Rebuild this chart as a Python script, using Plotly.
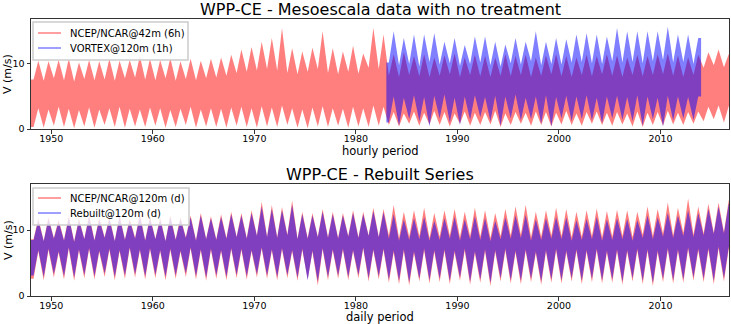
import plotly.graph_objects as go
import pandas as pd
import numpy as np

# ---------------- data ----------------
years = list(range(1948, 2017))          # 69 years
vortex_years = list(range(1983, 2014))   # VORTEX hourly series span

# Top panel - NCEP/NCAR@42m (6h): yearly envelope values (m/s)
n42_top_windy = [10.5, 10.4, 10.6, 10.8, 10.2, 10.6, 10.4, 10.8, 10.5, 10.6,
                 11.2, 10.8, 10.6, 10.9, 10.4, 10.8, 10.5, 10.8, 11.0, 11.4,
                 12.2, 12.6, 13.4, 14.0, 15.5, 12.4, 11.9, 12.5, 15.0, 12.4,
                 11.9, 12.8, 11.6, 15.5, 14.5, 11.5, 11.8, 11.2, 11.5, 11.0,
                 11.3, 11.6, 11.0, 11.4, 11.2, 11.0, 11.5, 11.2, 11.4, 11.0,
                 11.3, 11.5, 11.2, 11.0, 11.4, 11.2, 11.5, 11.3, 11.0, 11.4,
                 11.2, 11.5, 11.6, 11.3, 11.0, 11.4, 11.8, 12.2, 11.5]
n42_top_calm = [7.6, 7.4, 7.8, 7.5, 7.3, 7.7, 7.5, 7.6, 7.4, 7.8,
                7.9, 7.6, 7.5, 7.8, 7.4, 7.7, 7.5, 7.8, 7.9, 8.2,
                8.6, 8.8, 9.0, 9.2, 9.0, 8.6, 8.4, 8.8, 9.2, 8.6,
                8.4, 8.8, 8.5, 9.4, 9.2, 8.2, 8.0, 8.3, 8.1, 8.0,
                8.2, 8.4, 8.0, 8.3, 8.1, 8.0, 8.2, 8.1, 8.3, 8.0,
                8.2, 8.4, 8.1, 8.0, 8.3, 8.1, 8.4, 8.2, 8.0, 8.3,
                8.1, 8.3, 8.4, 8.2, 8.0, 8.3, 9.4, 9.8, 9.5]
n42_bot_calm = [0.3, 0.2, 0.5, 0.3, 0.1, 0.4, 0.2, 0.6, 0.3, 0.2,
                0.4, 0.3, 0.5, 0.2, 0.3, 0.6, 0.2, 0.4, 0.3, 0.2,
                0.5, 0.3, 0.2, 0.4, 0.3, 0.6, 0.2, 0.1, 0.4, 0.3,
                0.5, 0.2, 0.4, 0.3, 0.5, 0.6, 0.4, 0.8, 0.5, 0.7,
                0.6, 0.4, 0.8, 0.5, 0.6, 0.7, 0.3, 0.6, 0.8, 0.5,
                0.6, 0.4, 0.7, 0.6, 0.5, 0.8, 0.6, 0.5, 0.7, 0.4,
                0.3, 0.6, 0.5, 0.7, 0.6, 0.8, 1.2, 1.5, 1.0]
n42_bot_windy = [3.2, 3.0, 3.4, 3.1, 2.9, 3.3, 3.0, 3.2, 3.4, 3.1,
                 3.0, 3.3, 3.2, 2.9, 3.1, 3.4, 3.0, 3.2, 3.1, 3.3,
                 3.4, 3.2, 3.5, 3.3, 3.6, 3.2, 3.0, 3.3, 3.5, 3.2,
                 3.1, 3.4, 3.2, 3.6, 3.4, 2.6, 2.4, 2.7, 2.5, 2.8,
                 2.6, 2.4, 2.7, 2.5, 2.6, 2.8, 2.4, 2.6, 2.5, 2.7,
                 2.6, 2.5, 2.8, 2.4, 2.6, 2.7, 2.5, 2.6, 2.4, 2.7,
                 2.5, 2.6, 2.8, 2.5, 2.6, 2.7, 3.4, 3.6, 3.5]

# Top panel - VORTEX@120m (1h), 1983-2013
vx_top_windy = [15.0, 14.0, 14.5, 14.5, 14.7, 13.4, 14.0, 12.9, 14.2, 14.2,
                13.4, 13.0, 14.0, 13.4, 15.0, 13.4, 14.0, 13.8, 14.5, 14.7,
                14.5, 14.2, 15.5, 15.0, 15.0, 15.0, 15.0, 15.7, 14.5, 14.5, 14.0]
vx_top_calm = [10.2, 9.8, 10.0, 9.6, 10.3, 9.9, 10.1, 9.7, 10.0, 10.2,
               9.8, 9.6, 10.1, 9.9, 10.4, 9.8, 10.0, 9.9, 10.2, 10.3,
               10.1, 10.0, 10.4, 10.2, 10.3, 10.1, 10.4, 10.6, 10.2, 10.3, 10.0]
vx_bot_calm = [1.0, 0.5, 1.5, 1.2, 0.4, 1.6, 1.0, 0.6, 1.4, 1.8,
               1.2, 0.5, 1.6, 1.3, 1.5, 0.8, 0.4, 1.6, 1.2, 1.5,
               1.3, 0.9, 1.6, 1.4, 1.2, 0.5, 1.5, 0.4, 1.3, 1.6, 1.4]
vx_bot_windy = [5.0, 4.8, 5.2, 4.9, 5.1, 5.3, 4.8, 5.0, 5.2, 4.9,
                5.1, 5.0, 5.3, 4.8, 5.0, 5.2, 4.9, 5.1, 5.0, 5.2,
                4.8, 5.0, 5.1, 4.9, 5.2, 5.0, 4.8, 5.1, 5.0, 4.9, 5.0]

# Bottom panel - NCEP/NCAR@120m (d)
n120_top_windy = [11.8, 12.0, 11.6, 12.2, 11.8, 12.4, 11.9, 12.0, 12.3, 11.8,
                  12.5, 12.1, 11.9, 12.3, 12.0, 12.2, 12.6, 12.1, 12.4, 12.8,
                  12.6, 13.0, 14.3, 13.8, 13.5, 14.5, 12.8, 12.6, 13.2, 12.8,
                  12.6, 13.0, 12.8, 13.4, 13.2, 13.8, 12.8, 13.0, 13.4, 12.6,
                  13.0, 13.2, 12.8, 13.4, 13.0, 12.6, 13.2, 13.6, 13.8, 12.8,
                  13.0, 13.4, 13.2, 12.8, 13.0, 13.3, 12.9, 13.1, 13.0, 12.8,
                  13.6, 13.2, 14.2, 13.4, 14.8, 13.6, 14.0, 14.2, 14.5]
n120_top_calm = [8.6, 8.4, 8.8, 8.5, 8.3, 8.7, 8.5, 8.9, 8.4, 8.6,
                 8.8, 8.5, 8.7, 8.4, 8.6, 8.9, 8.5, 8.7, 8.6, 8.8,
                 9.0, 8.8, 9.2, 9.0, 8.9, 9.3, 8.7, 8.8, 9.0, 8.9,
                 8.8, 9.1, 8.9, 9.2, 9.0, 9.2, 8.8, 9.0, 9.1, 8.8,
                 9.0, 9.2, 8.9, 9.1, 9.0, 8.8, 9.1, 9.2, 9.3, 8.9,
                 9.0, 9.2, 9.1, 8.9, 9.0, 9.1, 8.9, 9.0, 9.1, 8.9,
                 9.3, 9.1, 9.5, 9.2, 9.6, 9.3, 9.5, 9.6, 9.7]
n120_bot_calm = [2.6, 2.4, 2.8, 2.5, 2.3, 2.7, 2.5, 2.9, 2.4, 2.6,
                 2.8, 2.5, 2.7, 2.4, 2.6, 2.9, 2.5, 2.3, 2.6, 2.4,
                 2.7, 2.5, 2.8, 2.6, 2.4, 2.7, 2.3, 2.5, 1.6, 2.4,
                 2.6, 2.4, 2.7, 2.2, 2.5, 2.0, 1.8, 1.6, 2.2, 1.9,
                 2.1, 1.8, 2.3, 1.7, 2.0, 1.5, 2.2, 1.9, 1.8, 2.1,
                 1.7, 2.0, 1.9, 2.2, 1.8, 2.1, 1.9, 2.0, 1.7, 2.2,
                 1.8, 1.5, 2.1, 1.9, 2.0, 2.3, 2.1, 1.8, 2.2]
n120_bot_windy = [6.8, 7.0, 6.6, 7.2, 6.9, 7.1, 6.7, 7.0, 6.8, 7.2,
                  6.9, 7.1, 6.8, 7.0, 6.7, 7.2, 6.9, 7.0, 6.8, 7.1,
                  7.0, 6.8, 7.2, 6.9, 7.1, 6.8, 7.0, 6.7, 7.1, 6.9,
                  7.0, 6.8, 7.2, 6.9, 7.0, 6.6, 6.8, 6.5, 6.9, 6.7,
                  6.8, 6.6, 6.9, 6.5, 6.8, 6.7, 6.9, 6.6, 6.8, 6.5,
                  6.7, 6.9, 6.6, 6.8, 6.7, 6.9, 6.6, 6.8, 6.7, 6.9,
                  6.8, 6.6, 7.0, 6.8, 7.1, 6.9, 7.0, 7.2, 7.1]

# Bottom panel - Rebuilt@120m (d)
rb_top_windy = [11.5, 11.7, 11.3, 11.9, 11.5, 12.0, 11.6, 11.7, 12.0, 11.5,
                12.1, 11.8, 11.6, 12.0, 11.7, 11.9, 12.2, 11.8, 12.0, 12.4,
                12.2, 12.6, 13.6, 13.2, 13.0, 13.8, 12.4, 12.2, 12.8, 12.4,
                12.2, 12.6, 12.4, 12.9, 12.7, 12.4, 11.6, 11.8, 12.0, 11.4,
                11.8, 12.0, 11.6, 12.1, 11.8, 11.4, 11.9, 12.2, 12.3, 11.6,
                11.8, 12.0, 11.9, 11.5, 11.7, 12.0, 11.6, 11.8, 11.7, 11.5,
                12.2, 11.9, 12.6, 12.2, 13.0, 12.6, 13.2, 13.6, 14.0]
rb_top_calm = [8.5, 8.3, 8.7, 8.4, 8.2, 8.6, 8.4, 8.8, 8.3, 8.5,
               8.7, 8.4, 8.6, 8.3, 8.5, 8.8, 8.4, 8.6, 8.5, 8.7,
               8.9, 8.7, 9.1, 8.9, 8.8, 9.2, 8.6, 8.7, 8.9, 8.8,
               8.7, 9.0, 8.8, 9.1, 8.9, 8.7, 8.4, 8.5, 8.6, 8.4,
               8.5, 8.7, 8.4, 8.6, 8.5, 8.3, 8.6, 8.7, 8.8, 8.4,
               8.5, 8.7, 8.6, 8.4, 8.5, 8.6, 8.4, 8.5, 8.6, 8.4,
               8.8, 8.6, 9.0, 8.8, 9.1, 8.9, 9.2, 9.4, 9.5]
rb_bot_calm = [3.1, 2.9, 3.3, 3.0, 2.8, 3.2, 3.0, 3.4, 2.9, 3.1,
               3.3, 3.0, 3.2, 2.9, 3.1, 3.4, 3.0, 2.8, 3.1, 2.9,
               3.2, 3.0, 3.3, 3.1, 2.9, 3.2, 2.8, 2.4, 2.2, 2.9,
               3.1, 2.9, 3.2, 2.7, 3.0, 2.5, 2.3, 2.1, 2.6, 2.4,
               2.6, 2.3, 2.8, 2.2, 2.5, 2.0, 2.7, 2.4, 2.3, 2.6,
               2.2, 2.5, 2.4, 2.7, 2.3, 2.6, 2.4, 2.5, 2.2, 2.7,
               2.3, 2.0, 2.6, 2.4, 2.5, 2.8, 2.6, 2.3, 2.7]
rb_bot_windy = [7.0, 7.2, 6.8, 7.4, 7.1, 7.3, 6.9, 7.2, 7.0, 7.4,
                7.1, 7.3, 7.0, 7.2, 6.9, 7.4, 7.1, 7.2, 7.0, 7.3,
                7.2, 7.0, 7.4, 7.1, 7.3, 7.0, 7.2, 6.9, 7.3, 7.1,
                7.2, 7.0, 7.4, 7.1, 7.2, 6.9, 7.1, 6.8, 7.2, 7.0,
                7.1, 6.9, 7.2, 6.8, 7.1, 7.0, 7.2, 6.9, 7.1, 6.8,
                7.0, 7.2, 6.9, 7.1, 7.0, 7.2, 6.9, 7.1, 7.0, 7.2,
                7.1, 6.9, 7.3, 7.1, 7.4, 7.2, 7.3, 7.5, 7.4]

series_start = "1948-01-01"
series_end = "2016-10-01"
vortex_start = "1983-01-01"
vortex_end = "2014-01-01"

top_legend = ["NCEP/NCAR@42m (6h)", "VORTEX@120m (1h)"]
bottom_legend = ["NCEP/NCAR@120m (d)", "Rebuilt@120m (d)"]

# ---------------- helpers ----------------
CALM, WINDY = 0.25, 0.72   # position of calm / windy season within the year


def ydate(y, frac):
    a = pd.Timestamp(y, 1, 1)
    b = pd.Timestamp(y + 1, 1, 1)
    return a + (b - a) * frac


def band(yrs, top_calm, top_windy, bot_calm, bot_windy, start, end):
    xu, yu = [pd.Timestamp(start)], [top_calm[0]]
    xl, yl = [pd.Timestamp(start)], [bot_calm[0]]
    for i, y in enumerate(yrs):
        xu += [ydate(y, CALM), ydate(y, WINDY)]
        yu += [top_calm[i], top_windy[i]]
        xl += [ydate(y, CALM), ydate(y, WINDY)]
        yl += [bot_calm[i], bot_windy[i]]
    xu.append(pd.Timestamp(end)); yu.append(top_windy[-1])
    xl.append(pd.Timestamp(end)); yl.append(bot_windy[-1])
    return xu + xl[::-1], yu + yl[::-1]


RED = "rgba(255,0,0,0.5)"
BLUE = "rgba(0,0,255,0.5)"
FONT = "DejaVu Sans"
W, H = 731, 324
ML, MR, MT, MB = 31, 2, 19, 28
PW, PH = W - ML - MR, H - MT - MB

fig = go.Figure()


def add_band(xy, color, xa, ya):
    x, y = xy
    fig.add_trace(go.Scatter(x=x, y=y, mode="lines", fill="toself",
                             fillcolor=color, line=dict(width=0, color=color),
                             hoverinfo="skip", showlegend=False,
                             xaxis=xa, yaxis=ya))


add_band(band(years, n42_top_calm, n42_top_windy, n42_bot_calm, n42_bot_windy,
              series_start, series_end), RED, "x", "y")
add_band(band(vortex_years, vx_top_calm, vx_top_windy, vx_bot_calm, vx_bot_windy,
              vortex_start, vortex_end), BLUE, "x", "y")
add_band(band(years, n120_top_calm, n120_top_windy, n120_bot_calm, n120_bot_windy,
              series_start, series_end), RED, "x2", "y2")
add_band(band(years, rb_top_calm, rb_top_windy, rb_bot_calm, rb_bot_windy,
              series_start, series_end), BLUE, "x2", "y2")

axis_common = dict(showline=True, mirror=True, linecolor="#333333", linewidth=1,
                   ticks="outside", ticklen=3.5, tickwidth=1, tickcolor="#333333",
                   showgrid=False, zeroline=False,
                   tickfont=dict(family=FONT, size=9.5, color="black"))

xcommon = dict(axis_common, type="date", range=[series_start, series_end],
               tick0="1950-01-01", dtick="M120", tickformat="%Y",
               ticklabelstandoff=-3)


def px(x):   # page pixel -> paper x
    return (x - ML) / PW


def py(y):   # page pixel -> paper y
    return (H - MB - y) / PH


H_TOP_DOM = [py(129), 1.0]
H_BOT_DOM = [0.0, py(184)]

fig.update_layout(
    width=W, height=H,
    margin=dict(l=ML, r=MR, t=MT, b=MB),
    plot_bgcolor="white", paper_bgcolor="white",
    font=dict(family=FONT, color="black"),
    xaxis=dict(xcommon, anchor="y"),
    yaxis=dict(axis_common, domain=H_TOP_DOM, range=[0, 16.9],
               tickvals=[0, 10], anchor="x"),
    xaxis2=dict(xcommon, anchor="y2"),
    yaxis2=dict(axis_common, domain=H_BOT_DOM, range=[0, 17.0],
                tickvals=[0, 10], anchor="x2"),
    showlegend=False,
)

# legend boxes (drawn like matplotlib legends: line sample + label)
shapes = []
for labels, colors, (bx0, by0, bx1, by1), rows in [
        (top_legend, [RED, BLUE], (33, 22, 188, 60), (33, 48)),
        (bottom_legend, [RED, BLUE], (33, 188, 189, 225), (198, 213))]:
    shapes.append(dict(type="rect", xref="paper", yref="paper", layer="above",
                       x0=px(bx0), x1=px(bx1), y0=py(by1), y1=py(by0),
                       fillcolor="rgba(255,255,255,0.8)",
                       line=dict(color="#cccccc", width=1.5)))
    for lab, col, ry in zip(labels, colors, rows):
        shapes.append(dict(type="line", xref="paper", yref="paper", layer="above",
                           x0=px(38), x1=px(61), y0=py(ry), y1=py(ry),
                           line=dict(color=col, width=1.5)))
        fig.add_annotation(text=lab, xref="paper", yref="paper", x=px(68), y=py(ry),
                           xanchor="left", yanchor="middle", showarrow=False,
                           font=dict(family=FONT, size=10, color="black"))
fig.update_layout(shapes=shapes)

ann = [
    dict(text="WPP-CE - Mesoescala data with no treatment", x=0.5, y=1.0,
         yshift=10, size=16),
    dict(text="WPP-CE - Rebuilt Series", x=0.5, y=H_BOT_DOM[1], yshift=10, size=16),
    dict(text="hourly period", x=0.5, y=H_TOP_DOM[0], yshift=-22, size=11.5),
    dict(text="daily period", x=0.5, y=0.0, yshift=-21, size=11.5),
]
for a in ann:
    fig.add_annotation(text=a["text"], xref="paper", yref="paper", x=a["x"], y=a["y"],
                       yshift=a["yshift"], xanchor="center", yanchor="middle",
                       showarrow=False, font=dict(family=FONT, size=a["size"], color="black"))
for yc in [(H_TOP_DOM[0] + H_TOP_DOM[1]) / 2, (H_BOT_DOM[0] + H_BOT_DOM[1]) / 2]:
    fig.add_annotation(text="V (m/s)", xref="paper", yref="paper", x=0, y=yc,
                       xshift=-23, textangle=-90, xanchor="center", yanchor="middle",
                       showarrow=False, font=dict(family=FONT, size=11, color="black"))

# remove the default 8px page margin so the figure fills the window exactly
fig.write_html("out.html", config={"displayModeBar": False},
               post_script="document.body.style.margin='0';")
